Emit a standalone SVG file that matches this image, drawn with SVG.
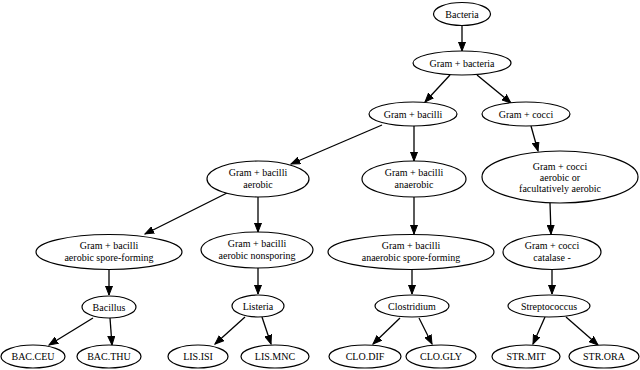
<svg xmlns="http://www.w3.org/2000/svg" width="640" height="370" viewBox="0 0 640 370">
<style>
ellipse{fill:#fff;stroke:#000;stroke-width:1.2}
text{font-family:'Liberation Serif','Times New Roman',Times,serif;font-size:10px;text-anchor:middle;fill:#000}
.e line{stroke:#000;stroke-width:1.3;marker-end:url(#a)}
</style>
<defs>
<marker id="a" markerUnits="userSpaceOnUse" markerWidth="10" markerHeight="8" refX="9" refY="4" orient="auto">
<path d="M0,0.5 L9,4 L0,7.5 Z" fill="#000" stroke="#000" stroke-width="1"/>
</marker>
</defs>
<rect width="640" height="370" fill="#fff"/>
<g class="e" id="edges">
<line x1="462" y1="26" x2="462" y2="51"/>
<line x1="450" y1="75" x2="425" y2="102"/>
<line x1="477" y1="75" x2="511" y2="103"/>
<line x1="382" y1="125" x2="291" y2="164"/>
<line x1="414" y1="126" x2="414" y2="161"/>
<line x1="531" y1="126" x2="538" y2="151"/>
<line x1="227" y1="193" x2="145" y2="234"/>
<line x1="258" y1="197" x2="258" y2="232"/>
<line x1="414" y1="197" x2="414" y2="234"/>
<line x1="550" y1="203" x2="551" y2="234"/>
<line x1="109" y1="269" x2="109" y2="295"/>
<line x1="258" y1="268" x2="258" y2="294"/>
<line x1="412" y1="270" x2="412" y2="294"/>
<line x1="552" y1="270" x2="552" y2="294"/>
<line x1="93" y1="318" x2="49" y2="345"/>
<line x1="110" y1="318" x2="112" y2="345"/>
<line x1="245" y1="317" x2="215" y2="344"/>
<line x1="262" y1="317" x2="271" y2="344"/>
<line x1="400" y1="318" x2="373" y2="344"/>
<line x1="419" y1="318" x2="432" y2="344"/>
<line x1="545" y1="317" x2="533" y2="344"/>
<line x1="566" y1="317" x2="598" y2="345"/>
</g>
<g font-family="Liberation Serif, serif">
<g id="n_bacteria"><ellipse cx="462" cy="14" rx="28.5" ry="11.5"/><text x="462" y="17.5">Bacteria</text></g>
<g id="n_grampos"><ellipse cx="462" cy="63" rx="49" ry="12"/><text x="462" y="66.5">Gram + bacteria</text></g>
<g id="n_bacilli"><ellipse cx="413" cy="114" rx="44" ry="12"/><text x="413" y="117.5">Gram + bacilli</text></g>
<g id="n_cocci"><ellipse cx="526" cy="114" rx="44" ry="12"/><text x="526" y="117.5">Gram + cocci</text></g>
<g id="n_bac_aer"><ellipse cx="258" cy="179" rx="51" ry="18"/><text x="258" y="176">Gram + bacilli</text><text x="258" y="188">aerobic</text></g>
<g id="n_bac_anaer"><ellipse cx="414" cy="179" rx="52" ry="18"/><text x="414" y="176">Gram + bacilli</text><text x="414" y="188">anaerobic</text></g>
<g id="n_cocci_aer"><ellipse cx="560" cy="177" rx="78" ry="26"/><text x="560" y="170">Gram + cocci</text><text x="560" y="181">aerobic or</text><text x="560" y="192">facultatively aerobic</text></g>
<g id="n_aer_spore"><ellipse cx="109" cy="252" rx="73" ry="17.5"/><text x="109" y="248.5">Gram + bacilli</text><text x="109" y="260.5">aerobic spore-forming</text></g>
<g id="n_aer_nonspor"><ellipse cx="257" cy="250" rx="56" ry="18"/><text x="257" y="246.5">Gram + bacilli</text><text x="257" y="258.5">aerobic nonsporing</text></g>
<g id="n_anaer_spore"><ellipse cx="411" cy="252" rx="83" ry="17.5"/><text x="411" y="248.5">Gram + bacilli</text><text x="411" y="260.5">anaerobic spore-forming</text></g>
<g id="n_catalase"><ellipse cx="552" cy="252" rx="49" ry="17.5"/><text x="552" y="248.5">Gram + cocci</text><text x="552" y="260.5">catalase -</text></g>
<g id="n_bacillus"><ellipse cx="109" cy="307" rx="27" ry="11"/><text x="109" y="310.5">Bacillus</text></g>
<g id="n_listeria"><ellipse cx="258" cy="306" rx="26" ry="11"/><text x="258" y="309.5">Listeria</text></g>
<g id="n_clostridium"><ellipse cx="412" cy="306" rx="37" ry="11"/><text x="412" y="309.5">Clostridium</text></g>
<g id="n_strep"><ellipse cx="549" cy="306" rx="41" ry="11"/><text x="549" y="309.5">Streptococcus</text></g>
<g id="n_bacceu"><ellipse cx="33" cy="356.5" rx="32" ry="11.5"/><text x="33" y="360">BAC.CEU</text></g>
<g id="n_bacthu"><ellipse cx="109" cy="356.5" rx="32" ry="11.5"/><text x="109" y="360">BAC.THU</text></g>
<g id="n_lisisi"><ellipse cx="198" cy="356.5" rx="30" ry="11.5"/><text x="198" y="360">LIS.ISI</text></g>
<g id="n_lismnc"><ellipse cx="275" cy="356.5" rx="34" ry="11.5"/><text x="275" y="360">LIS.MNC</text></g>
<g id="n_clodif"><ellipse cx="365" cy="356.5" rx="36" ry="11.5"/><text x="365" y="360">CLO.DIF</text></g>
<g id="n_clogly"><ellipse cx="441" cy="356.5" rx="35" ry="11.5"/><text x="441" y="360">CLO.GLY</text></g>
<g id="n_strmit"><ellipse cx="526" cy="356.5" rx="34" ry="11.5"/><text x="526" y="360">STR.MIT</text></g>
<g id="n_strora"><ellipse cx="604" cy="356.5" rx="35" ry="11.5"/><text x="604" y="360">STR.ORA</text></g>
</g>
</svg>
